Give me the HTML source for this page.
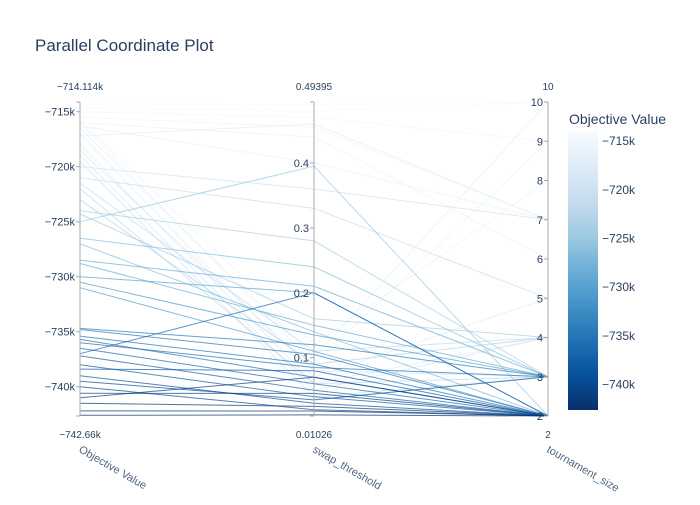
<!DOCTYPE html>
<html><head><meta charset="utf-8"><style>
body{margin:0;background:#fff}
svg text{font-family:"Liberation Sans",Arial,sans-serif}
</style></head><body>
<svg id="chart" width="700" height="500" xmlns="http://www.w3.org/2000/svg">
<rect width="700" height="500" fill="#fff"/>
<text x="35" y="51" font-size="17" fill="#2a3f5f">Parallel Coordinate Plot</text>
<g id="lines"></g><g id="axes"></g><g id="cbar"></g>
</svg>
<script>
const dimNames=["Objective Value","swap_threshold","tournament_size"];
const objVals=[-714.3,-714.6,-715.0,-715.5,-716.0,-716.3,-717.2,-715.8,-716.0,-716.5,-717.0,-718.0,-718.5,-719.0,-719.5,-720.0,-721.0,-721.5,-722.0,-723.0,-724.0,-724.3,-725.0,-726.5,-727.0,-728.5,-728.8,-730.0,-730.5,-731.0,-734.7,-734.8,-735.4,-735.7,-736.0,-736.5,-737.0,-737.2,-738.0,-738.4,-739.0,-740.0,-740.6,-741.0,-742.2,-742.6,-741.5,-739.5];
const swapVals=[0.49,0.48,0.47,0.455,0.44,0.40,0.46,0.12,0.09,0.10,0.07,0.06,0.08,0.05,0.04,0.36,0.33,0.11,0.06,0.09,0.28,0.16,0.395,0.24,0.14,0.21,0.15,0.2,0.135,0.11,0.12,0.105,0.09,0.07,0.085,0.06,0.20,0.05,0.04,0.08,0.03,0.02,0.045,0.07,0.018,0.012,0.025,0.035];
const tourVals=[10,10,9,7,6,7,7,8,9,10,5,4,3,4,3,7,5,4,3,4,3,4,2,3,2,3,3,2,3,2,3,2,2,2,3,2,2,2,2,2,2,2,2,2,2,2,2,3];
const ranges=[[-742.66,-714.114],[0.01026,0.49395],[2,10]];
const rangeLabels=[["−742.66k","−714.114k"],["0.01026","0.49395"],["2","10"]];
const objTicks=[-715,-720,-725,-730,-735,-740];
const swapTicks=[0.1,0.2,0.3,0.4];
const tourTicks=[2,3,4,5,6,7,8,9,10];
const axX=[80,314,548],plotTop=102,plotBot=416;
const NS="http://www.w3.org/2000/svg";
function yScale(d,v){const r=ranges[d];return plotBot-(v-r[0])/(r[1]-r[0])*(plotBot-plotTop);}
const stops=[[247,251,255],[222,235,247],[198,219,239],[158,202,225],[107,174,214],[66,146,198],[33,113,181],[8,81,156],[8,48,107]];
function color(v){let t=(ranges[0][1]-v)/(ranges[0][1]-ranges[0][0]);t=Math.max(0,Math.min(1,t))*(stops.length-1);const i=Math.min(stops.length-2,Math.floor(t)),f=t-i;const c=stops[i].map((a,k)=>Math.round(a+(stops[i+1][k]-a)*f));return `rgb(${c})`;}
function mk(tag,attrs,parent){const e=document.createElementNS(NS,tag);for(const k in attrs)e.setAttribute(k,attrs[k]);parent.appendChild(e);return e;}
const lg=document.getElementById('lines');
const order=objVals.map((v,i)=>i).sort((a,b)=>objVals[b]-objVals[a]);
order.forEach(i=>{
 const vals=[objVals[i],swapVals[i],tourVals[i]];
 const pts=vals.map((v,d)=>axX[d]+','+yScale(d,v).toFixed(1)).join(' ');
 const p=mk('polyline',{points:pts,fill:'none',stroke:color(objVals[i]),'stroke-width':1,'stroke-opacity':0.7},lg);
 
 
});
const ag=document.getElementById('axes');
const tickSets=[objTicks,swapTicks,tourTicks];
const fmt=[v=>'−'+Math.abs(v)+'k',v=>String(v),v=>String(v)];
for(let d=0;d<3;d++){
 const g=mk('g',{},ag);
 
 
 mk('line',{x1:axX[d],x2:axX[d],y1:plotTop,y2:plotBot,stroke:'#aaa','stroke-width':1},g);
 mk('line',{x1:axX[d]-4,x2:axX[d],y1:plotTop,y2:plotTop,stroke:'#aaa'},g);
 mk('line',{x1:axX[d]-4,x2:axX[d],y1:plotBot,y2:plotBot,stroke:'#aaa'},g);
 tickSets[d].forEach(v=>{const y=yScale(d,v);
  mk('line',{x1:axX[d]-4,x2:axX[d],y1:y,y2:y,stroke:'#aaa'},g);
  const t=mk('text',{x:axX[d]-5,y:y+4,'font-size':11,fill:'#2a3f5f','text-anchor':'end'},g);t.textContent=fmt[d](v);
  
  });
 const t1=mk('text',{x:axX[d],y:90,'font-size':10,fill:'#2a3f5f','text-anchor':'middle'},g);t1.textContent=rangeLabels[d][1];
 const t0=mk('text',{x:axX[d],y:438,'font-size':10,fill:'#2a3f5f','text-anchor':'middle'},g);t0.textContent=rangeLabels[d][0];
 const tl=mk('text',{x:axX[d],y:452,'font-size':11,fill:'#506784',transform:`rotate(30 ${axX[d]} 448)`},g);tl.textContent=dimNames[d];
 
 
}
const cg=document.getElementById('cbar');


const defs=mk('defs',{},cg);const lgd=mk('linearGradient',{id:'gr',x1:0,y1:0,x2:0,y2:1},defs);
stops.forEach((s,i)=>mk('stop',{offset:i/(stops.length-1),'stop-color':`rgb(${s})`},lgd));
const cbTop=132,cbBot=410;
mk('rect',{x:568,y:cbTop,width:30,height:cbBot-cbTop,fill:'url(#gr)'},cg);
const ct=mk('text',{x:569,y:124,'font-size':14,fill:'#2a3f5f'},cg);ct.textContent='Objective Value';
objTicks.forEach(v=>{const y=cbTop+(ranges[0][1]-v)/(ranges[0][1]-ranges[0][0])*(cbBot-cbTop);
 const t=mk('text',{x:602,y:y+4.5,'font-size':12,fill:'#2a3f5f'},cg);t.textContent='−'+Math.abs(v)+'k';});
</script>
</body></html>
